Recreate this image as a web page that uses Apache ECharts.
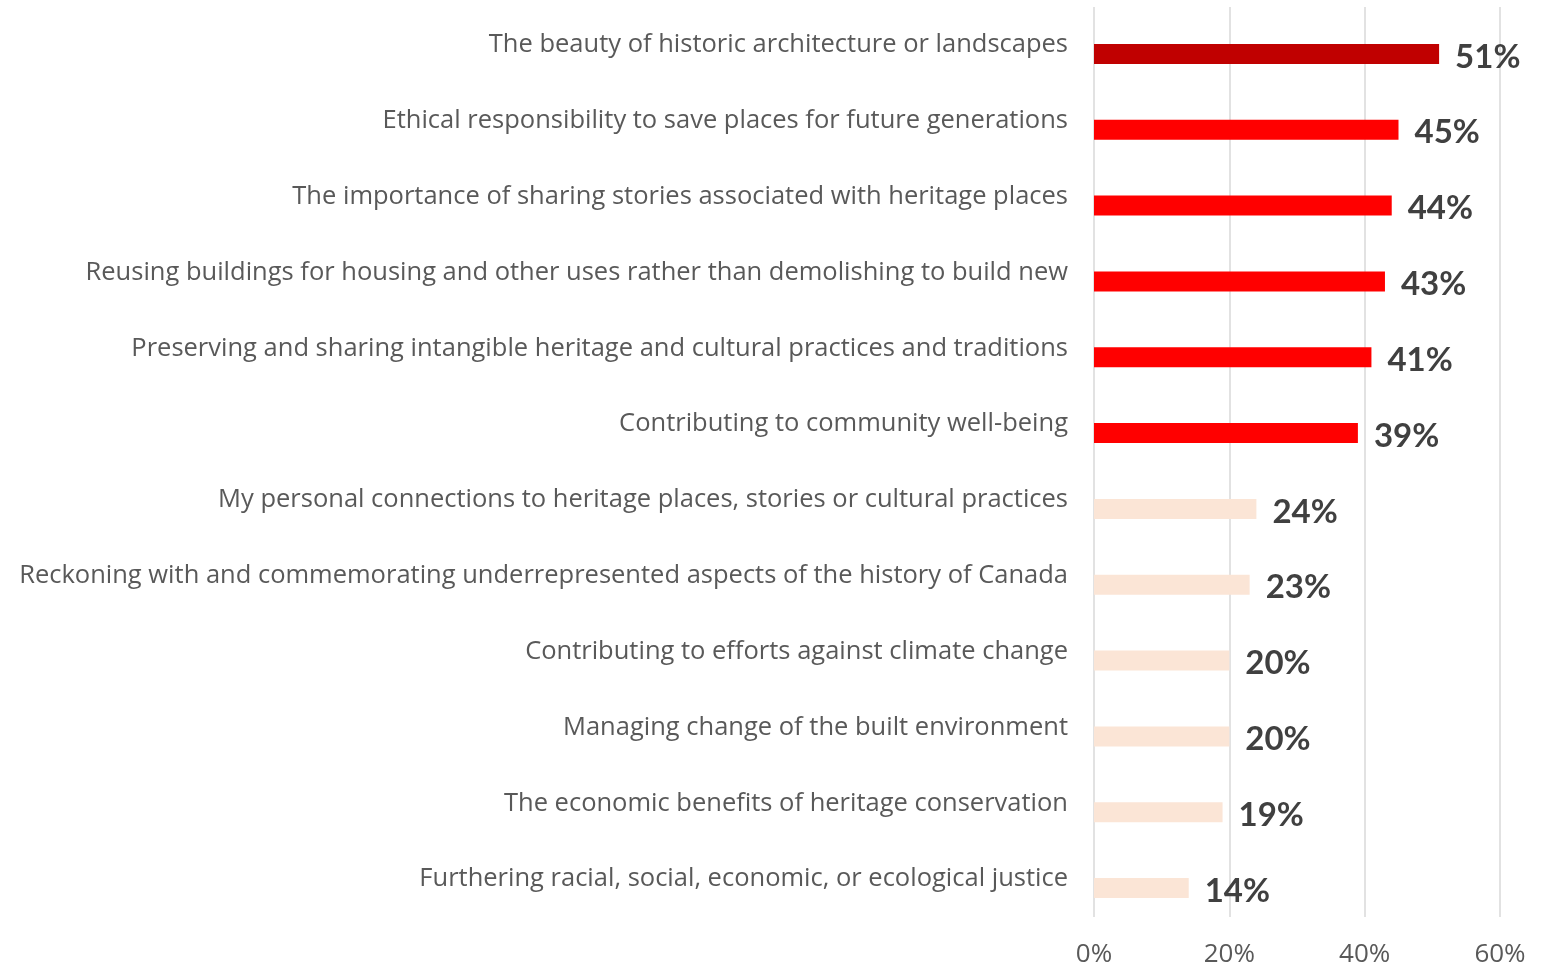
<!DOCTYPE html>
<html>
<head>
<meta charset="utf-8">
<script src="https://cdn.jsdelivr.net/npm/echarts@6/dist/echarts.min.js"></script>
<style>
html, body { margin: 0; padding: 0; background: #fff; }
#chart { width: 1550px; height: 970px; }
</style>
</head>
<body>
<div id="chart"></div>
<script>
var categories = [
    'The beauty of historic architecture or landscapes',
    'Ethical responsibility to save places for future generations',
    'The importance of sharing stories associated with heritage places',
    'Reusing buildings for housing and other uses rather than demolishing to build new',
    'Preserving and sharing intangible heritage and cultural practices and traditions',
    'Contributing to community well-being',
    'My personal connections to heritage places, stories or cultural practices',
    'Reckoning with and commemorating underrepresented aspects of the history of Canada',
    'Contributing to efforts against climate change',
    'Managing change of the built environment',
    'The economic benefits of heritage conservation',
    'Furthering racial, social, economic, or ecological justice'
];
var values = [51, 45, 44, 43, 41, 39, 24, 23, 20, 20, 19, 14];
var xTicks = [0, 20, 40, 60];

window.onload = function() {
    // 柱子颜色: 第一条深红, 前六条红色, 其余浅色
    function barColor(p) {
        if (p.dataIndex === 0) return '#C00000';
        if (p.dataIndex < 6) return '#FF0000';
        return '#FBE5D6';
    }

    var option = {
        animation: false,
        textStyle: { fontFamily: 'Lato' },
        grid: [
            { left: 1094, right: 50, top: 16, height: 910 },
            { left: 1094, right: 50, top: 7, height: 910 }
        ],
        xAxis: [{
            gridIndex: 0,
            type: 'value',
            min: xTicks[0], max: xTicks[xTicks.length - 1], interval: 20,
            axisLabel: { show: false },
            axisLine: { show: false },
            axisTick: { show: false },
            splitLine: { show: false }
        }, {
            gridIndex: 1,
            type: 'value',
            min: xTicks[0], max: xTicks[xTicks.length - 1], interval: 20,
            axisLabel: {
                formatter: '{value}%',
                color: '#595959',
                fontSize: 26,
                fontFamily: 'Open Sans',
                margin: 25
            },
            axisLine: { show: false },
            axisTick: { show: false },
            splitLine: { show: true, lineStyle: { color: '#D9D9D9', width: 1.5 } }
        }],
        yAxis: [{
            gridIndex: 0,
            type: 'category',
            inverse: true,
            data: categories,
            axisLabel: { show: false },
            axisLine: { show: false },
            axisTick: { show: false }
        }, {
            gridIndex: 1,
            type: 'category',
            inverse: true,
            data: categories,
            axisLabel: {
                color: '#595959',
                fontSize: 25.5,
                fontFamily: 'Open Sans',
                margin: 26
            },
            axisLine: { show: false },
            axisTick: { show: false }
        }],
        series: [{
            type: 'bar',
            xAxisIndex: 0,
            yAxisIndex: 0,
            data: values,
            barWidth: 20,
            itemStyle: { color: barColor },
            label: {
                show: true,
                position: 'right',
                distance: 16,
                offset: [0, 3],
                formatter: '{c}%',
                color: '#404040',
                fontSize: 33,
                fontWeight: 'bold',
                fontFamily: 'Lato'
            }
        }]
    };

    var chart = echarts.init(document.getElementById('chart'));
    chart.setOption(option);
};
</script>
</body>
</html>
